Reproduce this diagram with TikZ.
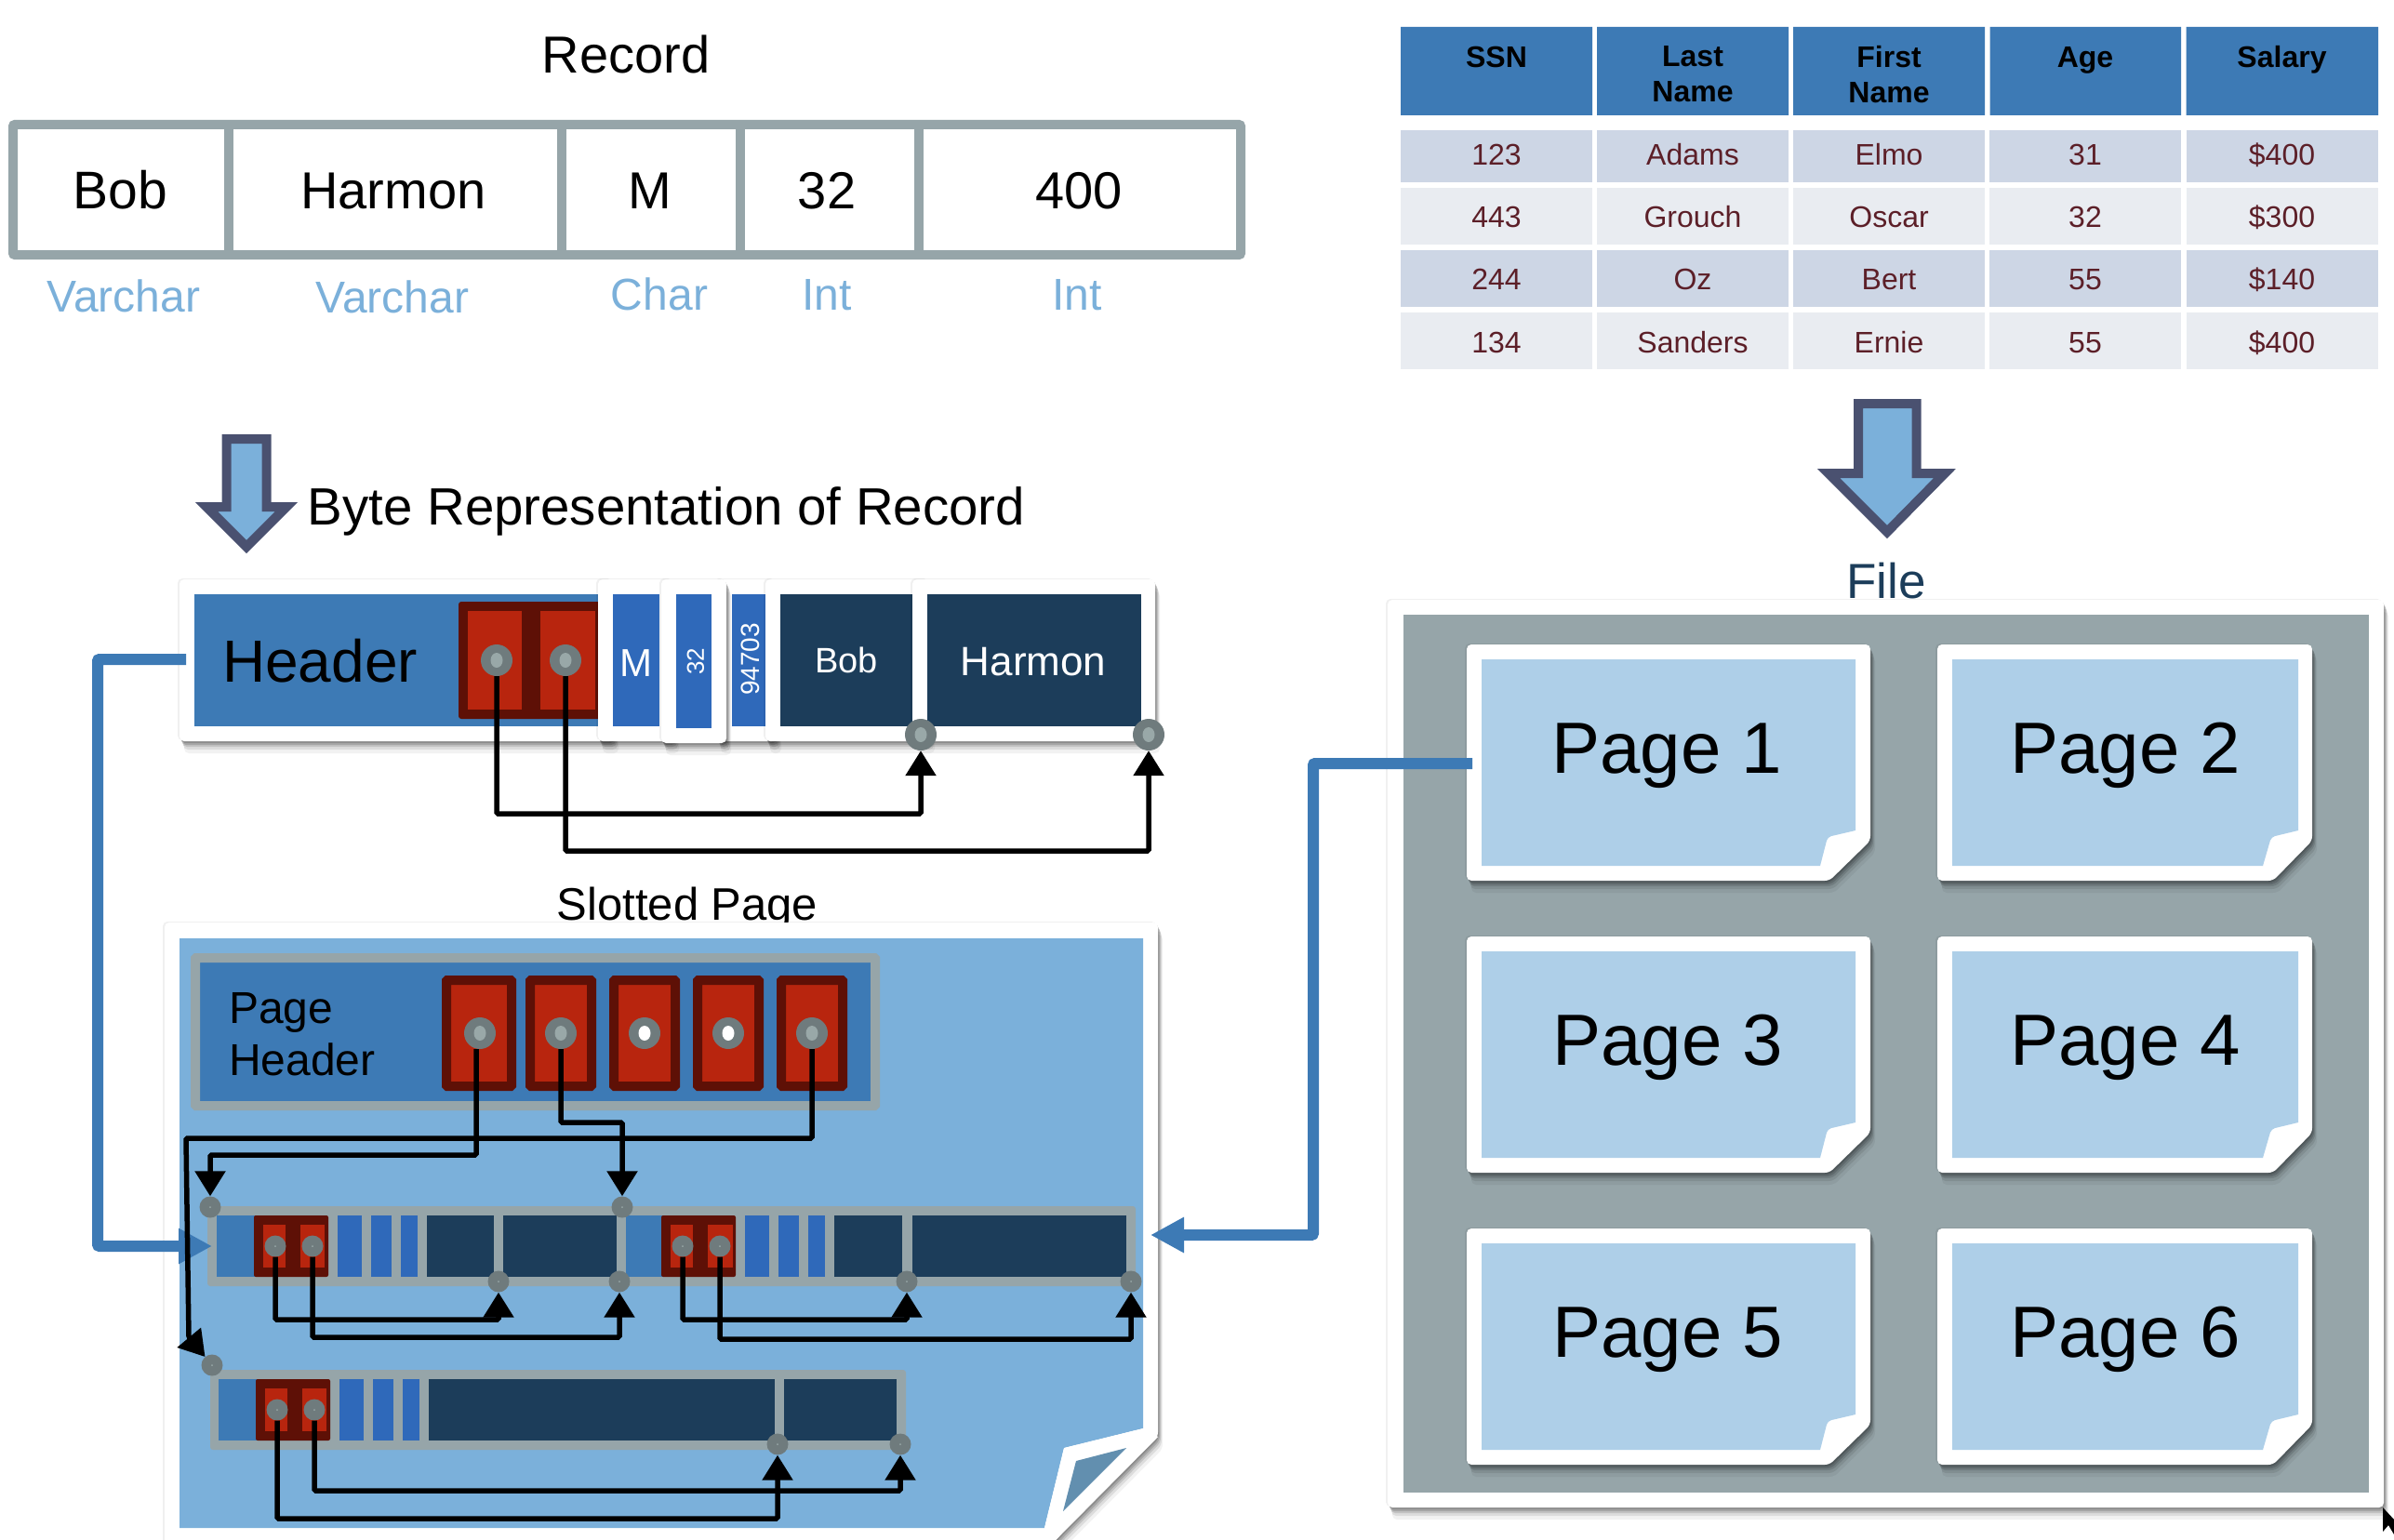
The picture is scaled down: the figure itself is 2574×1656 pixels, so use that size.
\documentclass[tikz,border=0pt]{standalone}
\usepackage{fontspec}
\setmainfont{Liberation Sans}
\usetikzlibrary{arrows.meta, shadows}
\definecolor{frameGrey}{HTML}{96A5A9}
\definecolor{hdrBlue}{HTML}{3D7AB5}
\definecolor{stripBlue}{HTML}{2F69BA}
\definecolor{navyBlock}{HTML}{1C3D5A}
\definecolor{skyBlue}{HTML}{7BB0DA}
\definecolor{paleBlue}{HTML}{AECFE8}
\definecolor{foldBlue}{HTML}{628FAF}
\definecolor{redDark}{HTML}{5E1006}
\definecolor{redFill}{HTML}{B8250E}
\definecolor{dotGrey}{HTML}{6F7B7D}
\definecolor{dotCore}{HTML}{99A8A8}
\definecolor{arrowEdge}{HTML}{4A5170}
\definecolor{rowDark}{HTML}{CDD6E5}
\definecolor{rowLight}{HTML}{E9ECF1}
\definecolor{maroon}{HTML}{5C1F28}
\tikzset{
    fs/.style={font=\fontsize{#1}{#1}\selectfont},
    lbl/.style={inner sep=0pt, anchor=base},
    softShadow/.style={
        drop shadow={shadow xshift=-2pt, shadow yshift=1pt, opacity=.06, fill=black},
        drop shadow={shadow xshift=1pt, shadow yshift=-2pt, opacity=.16, fill=black},
        drop shadow={shadow xshift=2pt, shadow yshift=-4pt, opacity=.14, fill=black},
        drop shadow={shadow xshift=3pt, shadow yshift=-6pt, opacity=.12, fill=black},
        drop shadow={shadow xshift=4pt, shadow yshift=-9pt, opacity=.09, fill=black},
        drop shadow={shadow xshift=5pt, shadow yshift=-13pt, opacity=.05, fill=black}
    },
    whiteCard/.style={fill=white, rounded corners=5pt, softShadow},
    redBox/.style={draw=redDark, fill=redFill, line width=10pt, rounded corners=1pt},
    fatArrow/.style={draw=arrowEdge, fill=skyBlue, line width=10pt},
    bigDot/.style={circle, fill=dotGrey, inner sep=0pt, minimum size=34pt,
        path picture={\fill[#1] (path picture bounding box.center) circle[x radius=6.5pt, y radius=8pt];}},
    bigDot/.default=dotCore,
    smallDot/.style={circle, fill=dotGrey, inner sep=0pt, minimum size=23pt,
        path picture={\fill[dotCore] (path picture bounding box.center) circle[radius=1pt];}},
    ptr/.style={line width=5.5pt, rounded corners=1.5pt, -{Triangle[length=27pt, width=32pt]}},
    blueLink/.style={draw=hdrBlue, line width=12pt, rounded corners=2pt, -{Triangle[length=36pt, width=36pt]}},
    cellBase/.style={inner sep=0pt, minimum width=206pt, fs=32, text height=23pt, text depth=0pt},
    headCell/.style={inner sep=0pt, font=\fontsize{32}{38}\selectfont\bfseries, align=center},
    darkCell/.style={cellBase, fill=rowDark, text=maroon, minimum height=#1},
    lightCell/.style={cellBase, fill=rowLight, text=maroon, minimum height=#1},
    firstRow/.style={darkCell=56pt, text depth=3pt},
    lastRow/.style={lightCell=61pt, text height=26pt}
}

\begin{document}
\begin{tikzpicture}[x=1pt, y=-1pt]
    \useasboundingbox (0,0) rectangle (2574,1656);

    % --- Record ---
    \node[lbl, fs=56] (recTitle) at (673,79) {Record};
    \draw[frameGrey, line width=10pt, rounded corners=2pt] (14,134) rectangle (1334,274);
    \draw[frameGrey, line width=10pt] (246,134)--(246,274) (604,134)--(604,274) (796,134)--(796,274) (988,134)--(988,274);
    \node[lbl, fs=57] (recBob) at (129,224) {Bob};
    \node[lbl, fs=56] (recHarmon) at (423,224) {Harmon};
    \node[lbl, fs=56] (recSex) at (699,224) {M};
    \node[lbl, fs=56] (recAge) at (889,224) {32};
    \node[lbl, fs=56] (recSalary) at (1160,224) {400};
    \node[lbl, fs=48, text=skyBlue] (typeBob) at (133,335) {Varchar};
    \node[lbl, fs=48, text=skyBlue] (typeHarmon) at (422,336) {Varchar};
    \node[lbl, fs=48, text=skyBlue] (typeSex) at (709,333) {Char};
    \node[lbl, fs=48, text=skyBlue] (typeAge) at (889,333) {Int};
    \node[lbl, fs=48, text=skyBlue] (typeSalary) at (1158,333) {Int};

    % --- Table ---
    \fill[hdrBlue] (1506,29) rectangle (1712,124) (1717,29) rectangle (1923,124) (1928,29) rectangle (2134,124)
        (2139.5,29) rectangle (2345,124) (2350.5,29) rectangle (2557,124);
    \node[headCell] (hSsn) at (1609,80) {SSN\\~};
    \node[headCell] (hLast) at (1820,80) {Last\\Name};
    \node[headCell] (hFirst) at (2031,80) {First\\Name};
    \node[headCell] (hAge) at (2242,80) {Age\\~};
    \node[headCell] (hSalary) at (2453.5,80) {Salary\\~};
    \node[firstRow] (a1) at (1609,168) {123}; \node[firstRow] (a2) at (1820,168) {Adams};
    \node[firstRow] (a3) at (2031,168) {Elmo}; \node[firstRow] (a4) at (2242,168) {31};
    \node[firstRow] (a5) at (2453.5,168) {\$400};
    \node[lightCell=61pt] (b1) at (1609,232.5) {443}; \node[lightCell=61pt] (b2) at (1820,232.5) {Grouch};
    \node[lightCell=61pt] (b3) at (2031,232.5) {Oscar}; \node[lightCell=61pt] (b4) at (2242,232.5) {32};
    \node[lightCell=61pt] (b5) at (2453.5,232.5) {\$300};
    \node[darkCell=61pt] (c1) at (1609,299.5) {244}; \node[darkCell=61pt] (c2) at (1820,299.5) {Oz};
    \node[darkCell=61pt] (c3) at (2031,299.5) {Bert}; \node[darkCell=61pt] (c4) at (2242,299.5) {55};
    \node[darkCell=61pt] (c5) at (2453.5,299.5) {\$140};
    \node[lastRow] (d1) at (1609,366.5) {134}; \node[lastRow] (d2) at (1820,366.5) {Sanders};
    \node[lastRow] (d3) at (2031,366.5) {Ernie}; \node[lastRow] (d4) at (2242,366.5) {55};
    \node[lastRow] (d5) at (2453.5,366.5) {\$400};

    % --- Down arrows ---
    \draw[fatArrow] (243.5,472)--(286.5,472)--(286.5,545)--(308,545)--(265,588)--(222,545)--(243.5,545)--cycle;
    \draw[fatArrow] (1998,434)--(2060.5,434)--(2060.5,509)--(2091,509)--(2029,572)--(1966,509)--(1998,509)--cycle;
    \node[lbl, fs=56.4] (byteTitle) at (716.5,564) {Byte Representation of Record};

    % --- Byte representation ---
    \fill[whiteCard] (193,623) rectangle (660,797);
    \fill[hdrBlue] (209,639) rectangle (650,781);
    \fill[redDark, rounded corners=3pt] (493,647) rectangle (655,773);
    \fill[redFill] (503,657) rectangle (561,763);
    \fill[redFill] (581,657) rectangle (640,763);
    \fill[whiteCard] (643,623) rectangle (725,797);
    \fill[stripBlue] (659,639) rectangle (709,781);
    \fill[whiteCard] (770,623) rectangle (835,797);
    \fill[stripBlue] (787,639) rectangle (823,781);
    \fill[whiteCard] (711,623) rectangle (781,799);
    \fill[stripBlue] (727,639) rectangle (765,783);
    \fill[whiteCard] (823,623) rectangle (1000,797);
    \fill[navyBlock] (839,639) rectangle (981,781);
    \fill[whiteCard] (981,623) rectangle (1242,797);
    \fill[navyBlock] (997,639) rectangle (1227,781);
    \node[lbl, fs=64] (hdrText) at (344,733) {Header};
    \node[lbl, fs=42, text=white] (byteSex) at (684,727) {M};
    \node[inner sep=0pt, fs=26, text=white, rotate=90] (byteAge) at (748,711) {32};
    \node[inner sep=0pt, fs=28, text=white, rotate=90] (byteZip) at (807,709) {94703};
    \node[lbl, fs=38, text=white] (byteBob) at (910,723) {Bob};
    \node[lbl, fs=44, text=white] (byteHarmon) at (1111,726) {Harmon};
    \node[bigDot] (bytePtrA) at (534,710) {};
    \node[bigDot] (bytePtrB) at (608,710) {};
    \node[bigDot] (bobEnd) at (990,790) {};
    \node[bigDot] (harmonEnd) at (1235,790) {};
    \draw[ptr] (bytePtrA) |- (bobEnd |- 0,875) -- (bobEnd);
    \draw[ptr] (bytePtrB) |- (harmonEnd |- 0,915) -- (harmonEnd);

    % --- Slotted page ---
    \node[lbl, fs=49] (slotTitle) at (739,989) {Slotted Page};
    \fill[whiteCard] (177,992)--(1245,992)--(1245,1545)--(1100,1691)--(177,1691)--cycle;
    \fill[skyBlue] (193,1009)--(1229,1009)--(1229,1536)--(1144,1557)--(1123,1643)--(193,1643)--cycle;
    \fill[white] (1229,1536)--(1144,1557)--(1123,1643)--(1135,1656)--(1245,1545)--cycle;
    \fill[foldBlue] (1157,1571)--(1211,1557)--(1143,1625)--cycle;
    % page header
    \filldraw[draw=frameGrey, fill=hdrBlue, line width=10pt, rounded corners=1pt] (210,1030) rectangle (941,1189);
    \node[inner sep=0pt, anchor=west, align=left, font=\fontsize{48}{56}\selectfont] (pgHdrText) at (246,1112) {Page\\Header};
    \draw[redBox] (480,1054) rectangle (550,1168);
    \draw[redBox] (570,1054) rectangle (636,1168);
    \draw[redBox] (660,1054) rectangle (726,1168);
    \draw[redBox] (750,1054) rectangle (816,1168);
    \draw[redBox] (840,1054) rectangle (906,1168);
    \node[bigDot] (pgPtrA) at (516,1111) {};
    \node[bigDot] (pgPtrB) at (603,1111) {};
    \node[bigDot=white] (pgPtrC) at (693,1111) {};
    \node[bigDot=white] (pgPtrD) at (783,1111) {};
    \node[bigDot] (pgPtrE) at (873,1111) {};
    % first row of records
    \fill[frameGrey, rounded corners=3pt] (223,1297) rectangle (1221,1383);
    \fill[hdrBlue] (233,1307) rectangle (280,1373);
    \fill[hdrBlue] (673,1307) rectangle (720,1373);
    \fill[redDark, rounded corners=2pt] (273,1307) rectangle (353,1373);
    \fill[redFill] (283,1317) rectangle (307,1363);
    \fill[redFill] (323,1317) rectangle (349,1363);
    \fill[stripBlue] (363,1307) rectangle (389,1373);
    \fill[stripBlue] (399,1307) rectangle (421,1373);
    \fill[stripBlue] (431,1307) rectangle (449,1373);
    \fill[navyBlock] (459,1307) rectangle (531,1373);
    \fill[navyBlock] (541,1307) rectangle (663,1373);
    \fill[redDark, rounded corners=2pt] (711,1307) rectangle (791,1373);
    \fill[redFill] (721,1317) rectangle (745,1363);
    \fill[redFill] (761,1317) rectangle (788,1363);
    \fill[stripBlue] (801,1307) rectangle (827,1373);
    \fill[stripBlue] (837,1307) rectangle (859,1373);
    \fill[stripBlue] (869,1307) rectangle (887,1373);
    \fill[navyBlock] (897,1307) rectangle (970,1373);
    \fill[navyBlock] (981,1307) rectangle (1211,1373);
    \node[smallDot] (slotA) at (226,1298) {};
    \node[smallDot] (slotB) at (669,1298) {};
    \node[smallDot] (aPtrA) at (296,1340) {};
    \node[smallDot] (aPtrB) at (336,1340) {};
    \node[smallDot] (bPtrA) at (734,1340) {};
    \node[smallDot] (bPtrB) at (774,1340) {};
    \node[smallDot] (aEndA) at (536,1378) {};
    \node[smallDot] (aEndB) at (666,1378) {};
    \node[smallDot] (bEndA) at (975,1378) {};
    \node[smallDot] (bEndB) at (1216,1378) {};
    % second row of records
    \fill[frameGrey, rounded corners=3pt] (226,1473) rectangle (974,1559);
    \fill[hdrBlue] (235,1483) rectangle (282,1549);
    \fill[redDark, rounded corners=2pt] (275,1483) rectangle (355,1549);
    \fill[redFill] (285,1493) rectangle (309,1539);
    \fill[redFill] (325,1493) rectangle (351,1539);
    \fill[stripBlue] (365,1483) rectangle (391,1549);
    \fill[stripBlue] (401,1483) rectangle (423,1549);
    \fill[stripBlue] (433,1483) rectangle (451,1549);
    \fill[navyBlock] (461,1483) rectangle (833,1549);
    \fill[navyBlock] (843,1483) rectangle (964,1549);
    \node[smallDot] (slotC) at (228,1468) {};
    \node[smallDot] (cPtrA) at (298,1516) {};
    \node[smallDot] (cPtrB) at (338,1516) {};
    \node[smallDot] (cEndA) at (836,1553) {};
    \node[smallDot] (cEndB) at (968,1553) {};

    % --- File ---
    \node[lbl, fs=53, text=navyBlock] (fileTitle) at (2028,643) {File};
    \fill[whiteCard] (1492,645) rectangle (2563,1621);
    \fill[frameGrey] (1509,661) rectangle (2547,1605);
    \begin{scope}[shift={(1577,693)}]
        \fill[whiteCard] (0,0)--(434,0)--(434,211)--(390,254)--(0,254)--cycle;
        \fill[paleBlue] (16,16)--(418,16)--(418,200)[rounded corners=4pt]--(388,207)[sharp corners]--(380,238)--(16,238)--cycle;
        \node[lbl, fs=78] (page1) at (215,138) {Page 1};
    \end{scope}
    \begin{scope}[shift={(2083,693)}]
        \fill[whiteCard] (0,0)--(403,0)--(403,211)--(361,254)--(0,254)--cycle;
        \fill[paleBlue] (16,16)--(388,16)--(388,200)[rounded corners=4pt]--(359,207)[sharp corners]--(350,238)--(16,238)--cycle;
        \node[lbl, fs=78] (page2) at (202,138) {Page 2};
    \end{scope}
    \begin{scope}[shift={(1577,1007)}]
        \fill[whiteCard] (0,0)--(434,0)--(434,211)--(390,254)--(0,254)--cycle;
        \fill[paleBlue] (16,16)--(418,16)--(418,200)[rounded corners=4pt]--(388,207)[sharp corners]--(380,238)--(16,238)--cycle;
        \node[lbl, fs=78] (page3) at (216,138) {Page 3};
    \end{scope}
    \begin{scope}[shift={(2083,1007)}]
        \fill[whiteCard] (0,0)--(403,0)--(403,211)--(361,254)--(0,254)--cycle;
        \fill[paleBlue] (16,16)--(388,16)--(388,200)[rounded corners=4pt]--(359,207)[sharp corners]--(350,238)--(16,238)--cycle;
        \node[lbl, fs=78] (page4) at (202,138) {Page 4};
    \end{scope}
    \begin{scope}[shift={(1577,1321)}]
        \fill[whiteCard] (0,0)--(434,0)--(434,211)--(390,254)--(0,254)--cycle;
        \fill[paleBlue] (16,16)--(418,16)--(418,200)[rounded corners=4pt]--(388,207)[sharp corners]--(380,238)--(16,238)--cycle;
        \node[lbl, fs=78] (page5) at (216,138) {Page 5};
    \end{scope}
    \begin{scope}[shift={(2083,1321)}]
        \fill[whiteCard] (0,0)--(403,0)--(403,211)--(361,254)--(0,254)--cycle;
        \fill[paleBlue] (16,16)--(388,16)--(388,200)[rounded corners=4pt]--(359,207)[sharp corners]--(350,238)--(16,238)--cycle;
        \node[lbl, fs=78] (page6) at (202,138) {Page 6};
    \end{scope}

    % --- Blue links ---
    \coordinate (hdrOut) at (200,709); \coordinate (slotIn) at (228,1340);
    \coordinate (fileOut) at (1583,821); \coordinate (slotEnd) at (1237,1328);
    \draw[blueLink] (hdrOut) -| (105,1340) -- (slotIn);
    \draw[blueLink] (fileOut) -| (1412,1328) -- (slotEnd);

    % --- Pointers of the slotted page ---
    \coordinate (wrapA) at (200,1224); \coordinate (wrapB) at (203,1438);
    \draw[ptr] ([xshift=-4pt]pgPtrA.south) |- (slotA |- 0,1242) -- (slotA);
    \draw[ptr] (pgPtrB) |- (slotB |- 0,1207) -- (slotB);
    \draw[ptr] (pgPtrE) |- (wrapA) -- (wrapB) -- (slotC);
    \draw[ptr] (aPtrA) |- (aEndA |- 0,1419) -- (aEndA);
    \draw[ptr] (aPtrB) |- (aEndB |- 0,1438) -- (aEndB);
    \draw[ptr] (bPtrA) |- (bEndA |- 0,1419) -- (bEndA);
    \draw[ptr] (bPtrB) |- (bEndB |- 0,1440) -- (bEndB);
    \draw[ptr] (cPtrB) |- (cEndB |- 0,1603) -- (cEndB);
    \draw[ptr] (cPtrA) |- (cEndA |- 0,1633) -- (cEndA);

    % --- Mouse pointer ---
    \fill[black] (2562,1621)--(2562,1647)--(2568,1640)--(2574,1650)--(2574,1634)--cycle;
\end{tikzpicture}
\end{document}
